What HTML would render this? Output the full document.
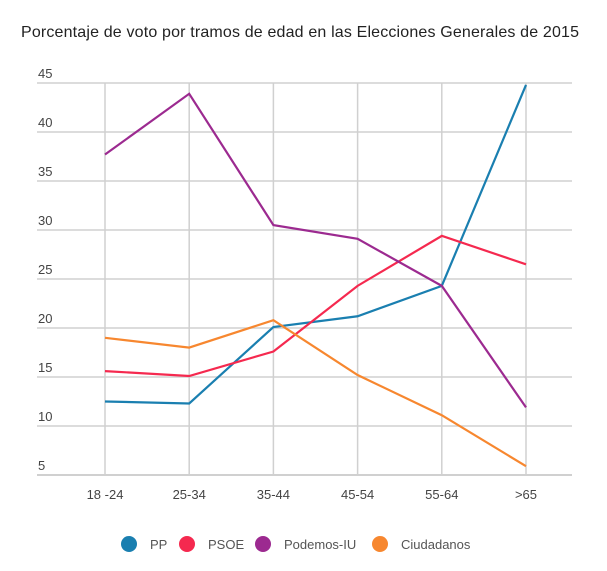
<!DOCTYPE html>
<html><head><meta charset="utf-8"><style>
body{margin:0;background:#fff;width:607px;height:566px;overflow:hidden;font-family:"Liberation Sans",sans-serif}
</style></head><body>
<svg id="c" width="607" height="566">
<text x="300" y="37" text-anchor="middle" font-size="16" textLength="558" fill="#222">Porcentaje de voto por tramos de edad en las Elecciones Generales de 2015</text>
<g id="grid"></g><g id="lines"></g><g id="legend"></g>
</svg>
<script>
const categories=["18 -24","25-34","35-44","45-54","55-64",">65"];
const yTicks=[5,10,15,20,25,30,35,40,45];
const ppValues=[12.5,12.3,20.1,21.2,24.3,44.8];
const psoeValues=[15.6,15.1,17.6,24.3,29.4,26.5];
const podemosValues=[37.7,43.9,30.5,29.1,24.3,11.9];
const csValues=[19,18,20.8,15.2,11.1,5.9];
const seriesNames=["PP","PSOE","Podemos-IU","Ciudadanos"];
const NS="http://www.w3.org/2000/svg";
const colors=["#1a7fb0","#f5294f","#9c2a90","#f7872f"];
const x=i=>105+i*84.2;
const y=v=>475-(v-5)*9.8;
function mk(t,a,p){const e=document.createElementNS(NS,t);for(const k in a)e.setAttribute(k,a[k]);p.appendChild(e);return e;}
const g=document.getElementById('grid');
yTicks.forEach(v=>{
 const l=mk('line',{x1:37,x2:572,y1:y(v),y2:y(v),stroke:'#d0d0d0','stroke-width':v===5?2:1.5},g);
 
 
 const t=mk('text',{x:38,y:y(v)-5,'font-size':13,fill:'#444'},g);t.textContent=v;
 
 
});
categories.forEach((c,i)=>{
 const l=mk('line',{x1:x(i),x2:x(i),y1:y(45),y2:y(5),stroke:'#d0d0d0','stroke-width':1.5},g);
 
 
 const t=mk('text',{x:x(i),y:499,'font-size':13,fill:'#444','text-anchor':'middle'},g);t.textContent=c;
 
 
});
const L=document.getElementById('lines');
[ppValues,psoeValues,podemosValues,csValues].forEach((vals,s)=>{
 const p=mk('polyline',{points:vals.map((v,i)=>x(i)+','+y(v)).join(' '),fill:'none',stroke:colors[s],'stroke-width':2.2},L);
 
 
});
const lg=document.getElementById('legend');
const lx=[129,187,263,380];
seriesNames.forEach((n,i)=>{
 const c=mk('circle',{cx:lx[i],cy:544,r:8,fill:colors[i]},lg);
 
 
 const t=mk('text',{x:lx[i]+21,y:549,'font-size':13,fill:'#555'},lg);t.textContent=n;
 
 
});
</script>
</body></html>
